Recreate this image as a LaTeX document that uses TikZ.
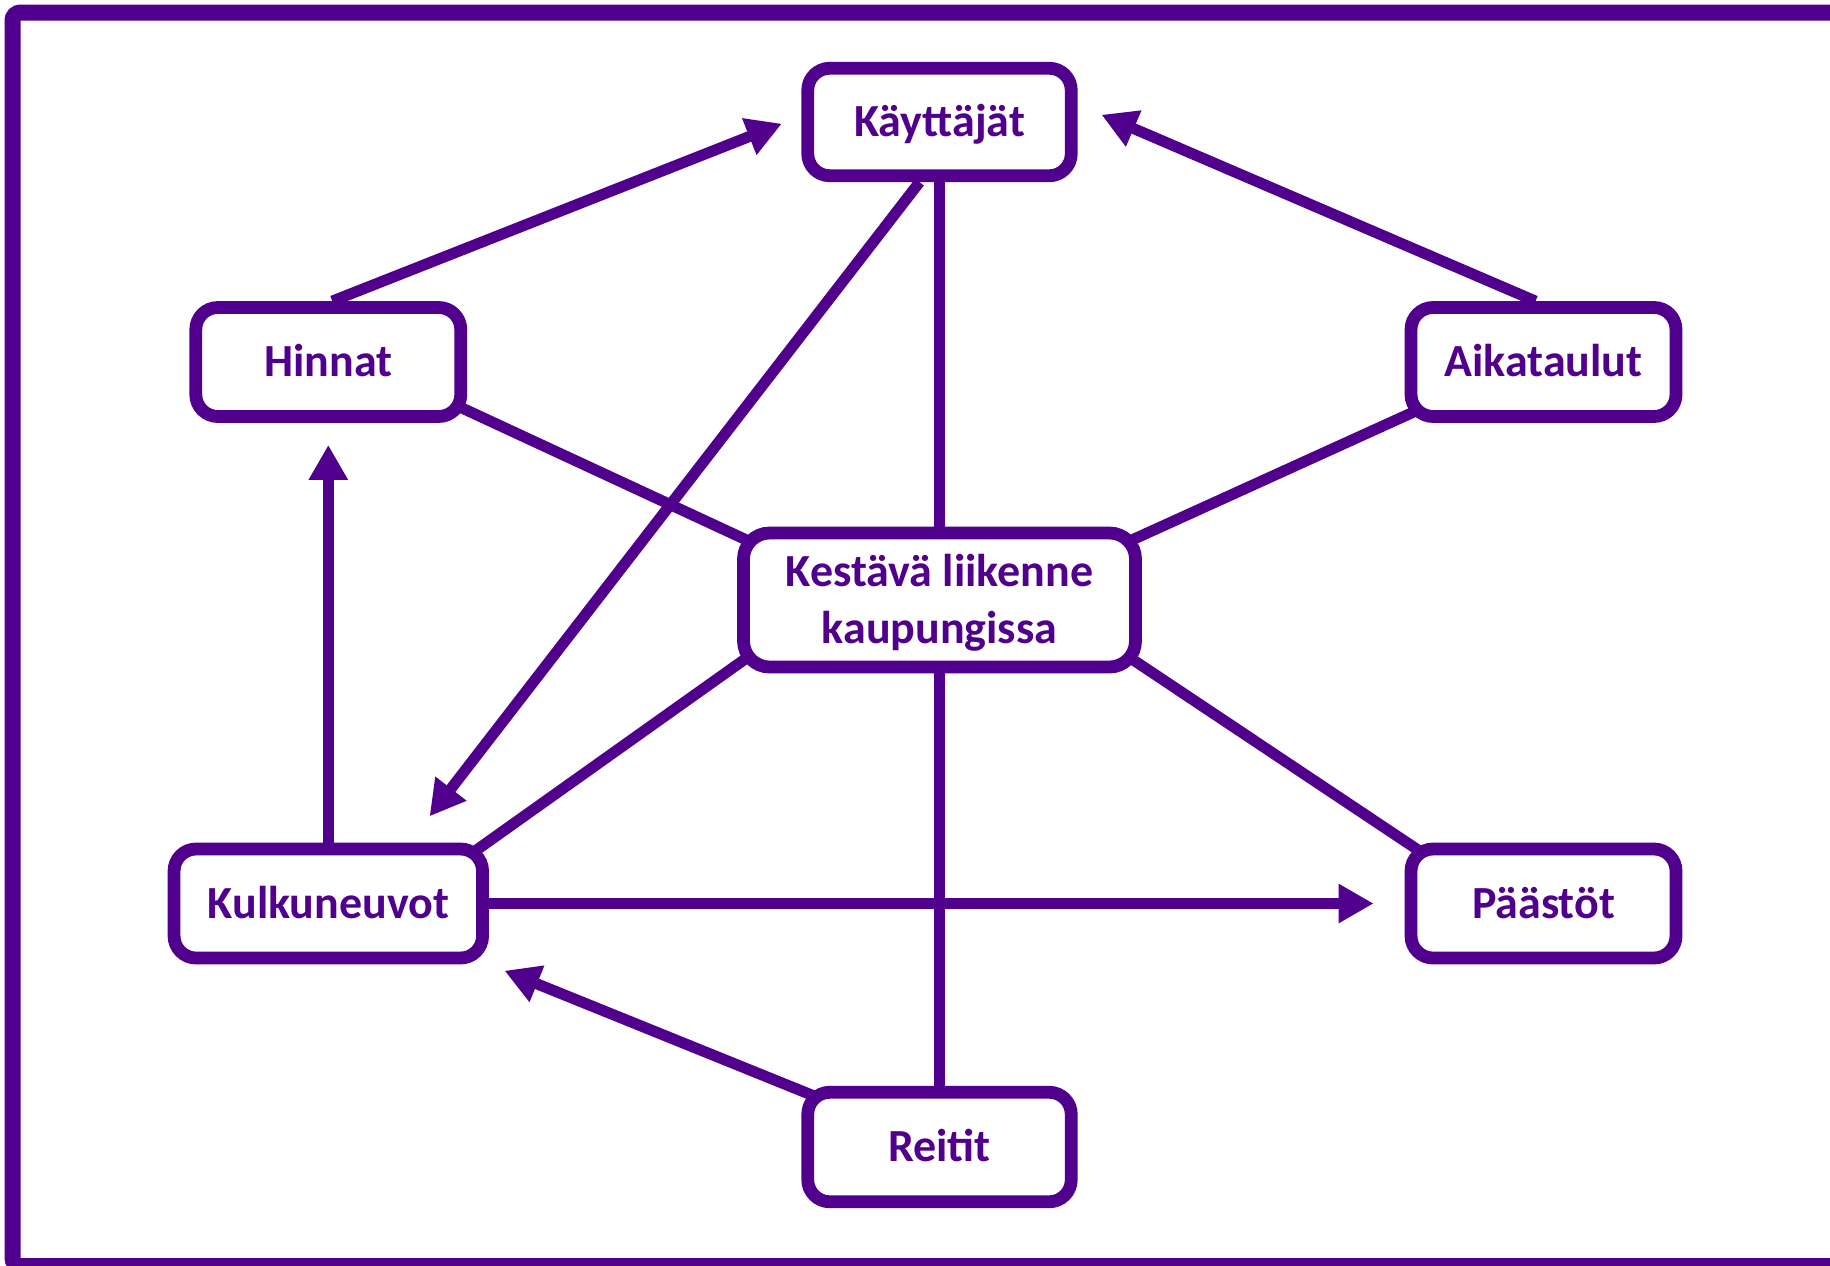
\documentclass[tikz,border=0pt]{standalone}
\usepackage{fontspec}
\setmainfont{Carlito}
\usetikzlibrary{arrows.meta,backgrounds}
\definecolor{vio}{RGB}{80,0,140}
\begin{document}
\begin{tikzpicture}[x=0.5pt,y=-0.5pt,
  box/.style={draw=vio, line width=6.4pt, fill=white, rounded corners=11pt, text=vio,
    font=\fontsize{23}{28.6}\selectfont\bfseries, inner sep=0pt, align=center,
    text height=14.6pt, text depth=0pt, minimum height=54.5pt},
  conn/.style={draw=vio, line width=5.5pt},
  arr/.style={conn, -{Triangle[length=17.5pt,width=18.5pt]}},
]
\useasboundingbox (0,0) rectangle (1830,1265);
\begin{scope}
\clip (0,0) rectangle (1830,1265);
\draw[vio, line width=8pt, rounded corners=4pt] (12.5,12.5) rectangle (1870,1266);
\end{scope}

\node[box, minimum width=131.75pt, minimum height=53.75pt] (kay) at (939.5,122) {Käyttäjät};
\node[box, minimum width=132.5pt] (hin) at (328.3,362) {Hinnat};
\node[box, minimum width=132.5pt] (ait) at (1543.5,362) {Aikataulut};
\node[box, minimum width=196pt, minimum height=67pt, rounded corners=13pt,
  text height=43.2pt] (cen) at (939.5,600) {Kestävä liikenne\\kaupungissa};
\node[box, minimum width=154.25pt] (kul) at (328.3,903.5) {Kulkuneuvot};
\node[box, minimum width=132.5pt] (paa) at (1543.5,903.5) {Päästöt};
\node[box, minimum width=131.75pt, minimum height=54.75pt] (rei) at (939.5,1147) {Reitit};

\begin{pgfonlayer}{background}
\draw[conn] (kay.center) -- (cen.center);
\draw[conn] (cen.center) -- (rei.center);
\draw[conn] ([yshift=8pt]hin.center) -- ([yshift=-14.75pt]cen.center);
\draw[conn] ([yshift=4.5pt]ait.center) -- ([yshift=-13.7pt]cen.center);
\draw[conn] ([xshift=-69.75pt,yshift=-10pt]cen.center) -- ([xshift=46pt,yshift=6.75pt]kul.center);
\draw[conn] ([xshift=70.25pt,yshift=-12.2pt]cen.center) -- ([xshift=-41.75pt,yshift=12.75pt]paa.center);
\draw[arr, shorten >=10.5pt] ([xshift=2pt]hin.north) -- ([yshift=3pt]kay.west);
\draw[arr, shorten >=13pt] ([xshift=-4pt]ait.north) -- ([yshift=8.75pt]kay.east);
\draw[arr, shorten >=16.6pt] ([xshift=-10pt]kay.south) -- ([xshift=40.5pt]kul.north);
\draw[arr, shorten >=11pt] (kul.north) -- (hin.south);
\draw[arr, shorten >=15.5pt] (kul.east) -- (paa.west);
\draw[arr, shorten >=8.4pt] ([xshift=-44.75pt,yshift=18.25pt]rei.center) -- (kul.south east);
\end{pgfonlayer}
\end{tikzpicture}
\end{document}
